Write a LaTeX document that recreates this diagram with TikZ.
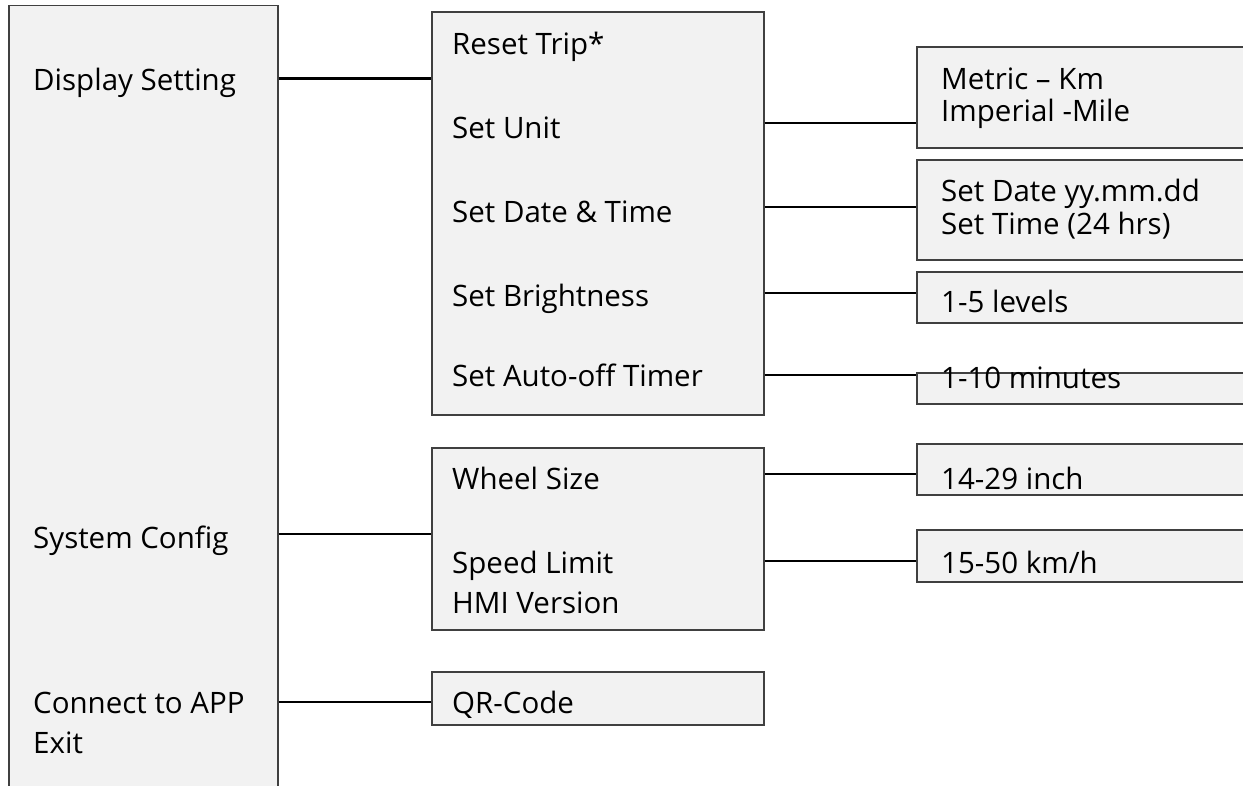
\documentclass[tikz,border=0pt]{standalone}
\usepackage{fontspec}
\setmainfont{Open Sans}
\begin{document}
\begin{tikzpicture}[x=1pt,y=-1pt,
  menubox/.style={draw=black!75,line width=1.5pt,fill=black!5,rectangle,inner sep=0pt,anchor=north west},
  lbl/.style={anchor=base west,inner sep=0pt,font=\fontsize{29.5}{35}\selectfont},
  conn/.style={draw=black,line width=2.2pt}]
\useasboundingbox (0,0) rectangle (1243,785);
\clip (0,0) rectangle (1243,785);
% boxes
\node[menubox,minimum width=269pt,minimum height=800pt] (L) at (8,4.5) {};
\node[menubox,minimum width=332pt,minimum height=403pt] (M1) at (431,11) {};
\node[menubox,minimum width=332pt,minimum height=182pt] (M2) at (431,447) {};
\node[menubox,minimum width=332pt,minimum height=53pt] (M3) at (431,671) {};
\node[menubox,minimum width=360pt,minimum height=101pt] (R1) at (916,46) {};
\node[menubox,minimum width=360pt,minimum height=100pt] (R2) at (916,159) {};
\node[menubox,minimum width=360pt,minimum height=51pt] (R3) at (916,271) {};
\node[menubox,minimum width=360pt,minimum height=31pt] (R4) at (916,372) {};
\node[menubox,minimum width=360pt,minimum height=51pt] (R5) at (916,443) {};
\node[menubox,minimum width=360pt,minimum height=52pt] (R6) at (916,529) {};
% left texts
\node[lbl] (tds) at (33,90) {Display Setting};
\node[lbl] (tsc) at (33,548) {System Config};
\node[lbl] (tca) at (33,713) {Connect to APP};
\node[lbl] (tex) at (33,753) {Exit};
% middle texts
\node[lbl] (trt) at (452,54) {Reset Trip*};
\node[lbl] (tsu) at (452,138) {Set Unit};
\node[lbl] (tdt) at (452,222) {Set Date \& Time};
\node[lbl] (tsb) at (452,306) {Set Brightness};
\node[lbl] (tat) at (452,386) {Set Auto-off Timer};
\node[lbl] (tws) at (452,489) {Wheel Size};
\node[lbl] (tsl) at (452,573) {Speed Limit};
\node[lbl] (thv) at (452,613) {HMI Version};
\node[lbl] (tqr) at (452,713) {QR-Code};
% right texts
\node[lbl] (tmk) at (941,89) {Metric – Km};
\node[lbl] (tim) at (941,121) {Imperial -Mile};
\node[lbl] (tsd) at (941,201) {Set Date yy.mm.dd};
\node[lbl] (tst) at (941,234) {Set Time (24 hrs)};
\node[lbl] (tlv) at (941,312) {1-5 levels};
\node[lbl] (tmn) at (941,388) {1-10 minutes};
\node[lbl] (tin) at (941,489) {14-29 inch};
\node[lbl] (tkm) at (941,573) {15-50 km/h};
% connection points
\coordinate (c1) at (0,78.5);
\coordinate (c2) at (0,123);
\coordinate (c3) at (0,207);
\coordinate (c4) at (0,293);
\coordinate (c5) at (0,375);
\coordinate (c6) at (0,534);
\coordinate (c7) at (0,474);
\coordinate (c8) at (0,561);
\coordinate (c9) at (0,702);
% connectors
\draw[conn] (L.east |- c1) -- (M1.west |- c1);
\draw[conn] (M1.east |- c2) -- (R1.west |- c2);
\draw[conn] (M1.east |- c3) -- (R2.west |- c3);
\draw[conn] (M1.east |- c4) -- (R3.west |- c4);
\draw[conn] (M1.east |- c5) -- (R4.west |- c5);
\draw[conn] (L.east |- c6) -- (M2.west |- c6);
\draw[conn] (M2.east |- c7) -- (R5.west |- c7);
\draw[conn] (M2.east |- c8) -- (R6.west |- c8);
\draw[conn] (L.east |- c9) -- (M3.west |- c9);
\end{tikzpicture}
\end{document}
